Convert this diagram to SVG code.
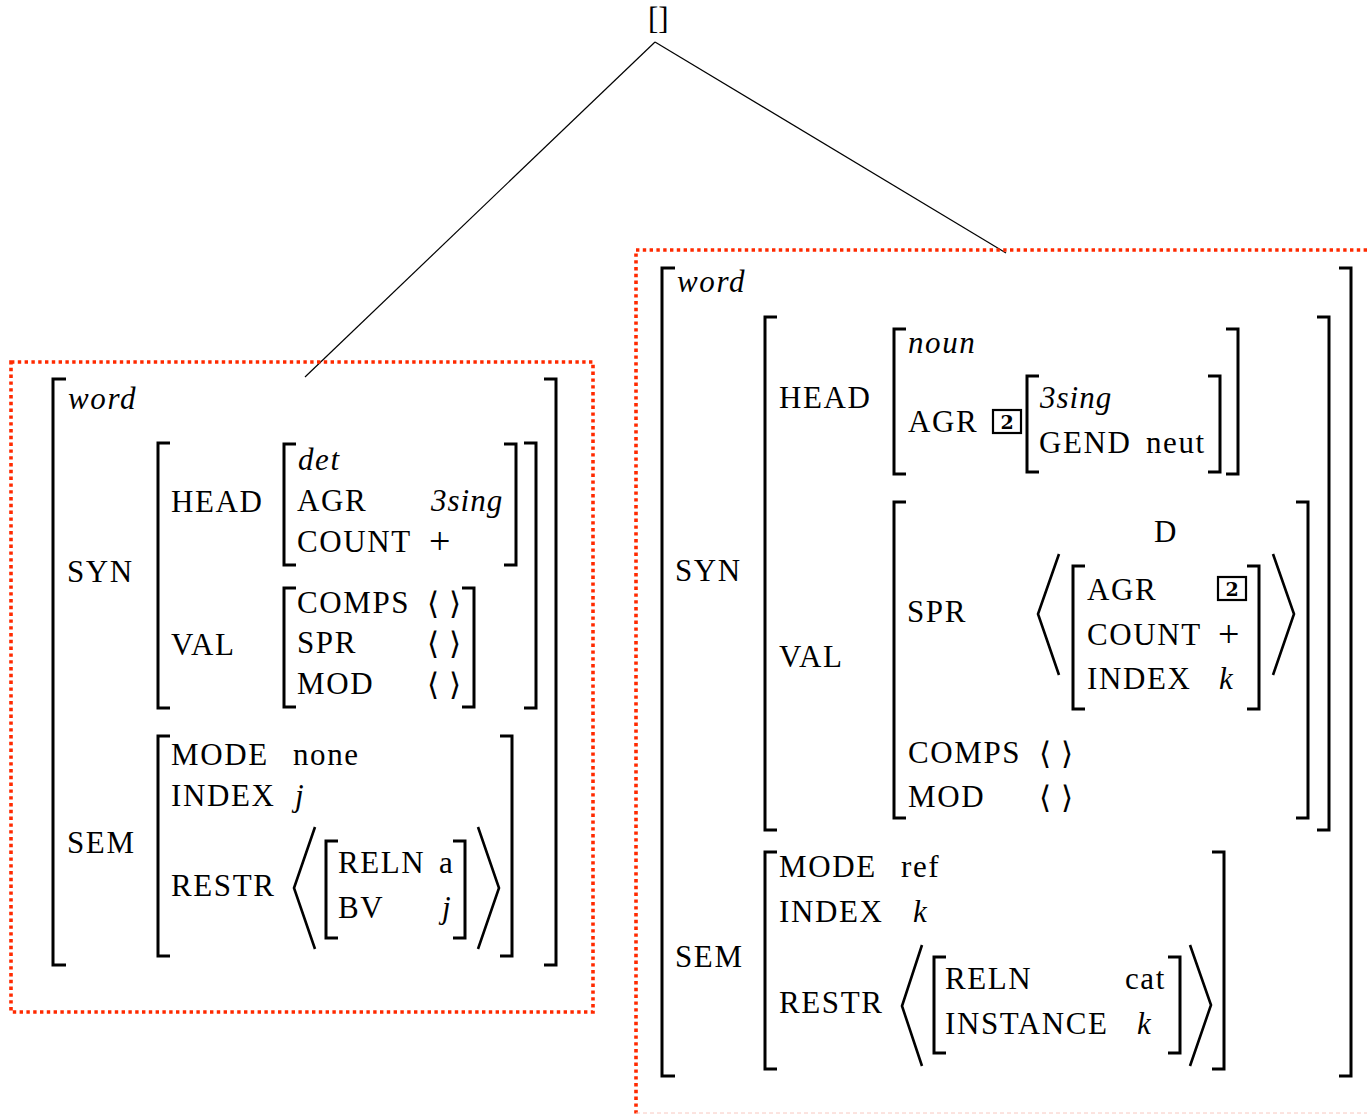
<svg xmlns="http://www.w3.org/2000/svg" width="1367" height="1114" viewBox="0 0 1367 1114">
<style>
.t{font-family:"Liberation Serif","Times New Roman",serif;font-size:31px;fill:#000;letter-spacing:1.6px}
.i{font-family:"Liberation Serif","Times New Roman",serif;font-size:31px;font-style:italic;fill:#000;letter-spacing:1.6px}
.pl{font-family:"Liberation Serif","Times New Roman",serif;font-size:38px;fill:#000}
.ab{font-family:"DejaVu Sans",sans-serif;font-size:31px;font-weight:300;fill:#000}
.br{fill:none;stroke:#000;stroke-width:3}
.ang{fill:none;stroke:#000;stroke-width:2.6}
.tag{fill:#fff;stroke:#000;stroke-width:2.2}
.tn{font-family:"DejaVu Serif",serif;font-size:19px;font-weight:bold;fill:#000;text-anchor:middle}
.red{fill:none;stroke:#ff2a00;stroke-width:3.6;stroke-dasharray:3.4 3.4}
.edge{stroke:#000;stroke-width:1.2;fill:none}
</style>
<rect width="1367" height="1114" fill="#fff"/>
<g id="connectors">
<line class="edge" x1="655" y1="42" x2="305" y2="377"/>
<line class="edge" x1="655" y1="42" x2="1006" y2="253"/>
</g>
<g id="root"><text class="t" x="648" y="29" style="letter-spacing:0">[]</text></g>
<g id="left-node">
<rect class="red" x="11" y="362" width="582" height="650"/>
<path class="br" d="M66,379H53V965H66"/><path class="br" d="M544,379H556V965H544"/>
<text class="i" x="68" y="409">word</text>
<text class="t" x="67" y="582">SYN</text>
<path class="br" d="M170,443H158V708H170"/><path class="br" d="M524,443H536V708H524"/>
<text class="t" x="171" y="512">HEAD</text>
<path class="br" d="M296,444H284V565H296"/><path class="br" d="M504,444H516V565H504"/>
<text class="i" x="298" y="470">det</text>
<text class="t" x="297" y="511">AGR</text><text class="i" x="431" y="511" style="letter-spacing:1px">3sing</text>
<text class="t" x="297" y="552">COUNT</text><text class="pl" x="429" y="554">+</text>
<text class="t" x="171" y="655">VAL</text>
<path class="br" d="M296,588H284V707H296"/><path class="br" d="M462,588H474V707H462"/>
<text class="t" x="297" y="613">COMPS</text><text class="ab" x="427" y="614">⟨ ⟩</text>
<text class="t" x="297" y="653">SPR</text><text class="ab" x="427" y="654">⟨ ⟩</text>
<text class="t" x="297" y="694">MOD</text><text class="ab" x="427" y="695">⟨ ⟩</text>
<text class="t" x="67" y="853">SEM</text>
<path class="br" d="M170,736H158V956H170"/><path class="br" d="M500,736H512V956H500"/>
<text class="t" x="171" y="765">MODE</text><text class="t" x="293" y="765">none</text>
<text class="t" x="171" y="806">INDEX</text><text class="i" x="295" y="806">j</text>
<text class="t" x="171" y="896">RESTR</text>
<path class="ang" d="M315,827L294,888L315,949"/>
<path class="br" d="M338,841H326V938H338"/><path class="br" d="M453,841H465V938H453"/>
<text class="t" x="338" y="873">RELN</text><text class="t" x="439" y="873">a</text>
<text class="t" x="338" y="918">BV</text><text class="i" x="442" y="918">j</text>
<path class="ang" d="M478,827L499,888L478,949"/>
</g>
<g id="right-node">
<path class="red" d="M1367,250H636V1114"/>
<line x1="636" y1="1113" x2="1367" y2="1113" stroke="#f8c8c0" stroke-width="1" stroke-dasharray="4 3"/>
<path class="br" d="M675,268H662V1076H675"/><path class="br" d="M1339,268H1351V1076H1339"/>
<text class="i" x="677" y="292">word</text>
<text class="t" x="675" y="581">SYN</text>
<path class="br" d="M777,317H765V830H777"/><path class="br" d="M1317,317H1329V830H1317"/>
<text class="t" x="779" y="408">HEAD</text>
<path class="br" d="M906,329H894V474H906"/><path class="br" d="M1226,329H1238V474H1226"/>
<text class="i" x="908" y="353">noun</text>
<text class="t" x="908" y="432">AGR</text>
<rect class="tag" x="993" y="410" width="28" height="23"/><text class="tn" x="1007" y="429">2</text>
<path class="br" d="M1039,376H1027V472H1039"/><path class="br" d="M1208,376H1220V472H1208"/>
<text class="i" x="1040" y="408" style="letter-spacing:1px">3sing</text>
<text class="t" x="1039" y="453">GEND</text><text class="t" x="1146" y="453">neut</text>
<text class="t" x="779" y="667">VAL</text>
<path class="br" d="M906,502H894V818H906"/><path class="br" d="M1296,502H1308V818H1296"/>
<text class="t" x="1166" y="542" text-anchor="middle">D</text>
<text class="t" x="907" y="622">SPR</text>
<path class="ang" d="M1059,554L1038,614L1059,675"/>
<path class="br" d="M1085,566H1073V709H1085"/><path class="br" d="M1247,566H1259V709H1247"/>
<text class="t" x="1087" y="600">AGR</text>
<rect class="tag" x="1218" y="577" width="28" height="23"/><text class="tn" x="1232" y="596">2</text>
<text class="t" x="1087" y="645">COUNT</text><text class="pl" x="1218" y="647">+</text>
<text class="t" x="1087" y="689">INDEX</text><text class="i" x="1219" y="689">k</text>
<path class="ang" d="M1273,554L1294,614L1273,675"/>
<text class="t" x="908" y="763">COMPS</text><text class="ab" x="1039" y="764">⟨ ⟩</text>
<text class="t" x="908" y="807">MOD</text><text class="ab" x="1039" y="808">⟨ ⟩</text>
<text class="t" x="675" y="967">SEM</text>
<path class="br" d="M777,852H765V1069H777"/><path class="br" d="M1212,852H1224V1069H1212"/>
<text class="t" x="779" y="877">MODE</text><text class="t" x="901" y="877">ref</text>
<text class="t" x="779" y="922">INDEX</text><text class="i" x="913" y="922">k</text>
<text class="t" x="779" y="1013">RESTR</text>
<path class="ang" d="M922,945L902,1006L922,1066"/>
<path class="br" d="M946,957H934V1053H946"/><path class="br" d="M1168,957H1180V1053H1168"/>
<text class="t" x="945" y="989">RELN</text><text class="t" x="1125" y="989">cat</text>
<text class="t" x="945" y="1034">INSTANCE</text><text class="i" x="1137" y="1034">k</text>
<path class="ang" d="M1190,945L1211,1005L1190,1066"/>
</g>
</svg>
